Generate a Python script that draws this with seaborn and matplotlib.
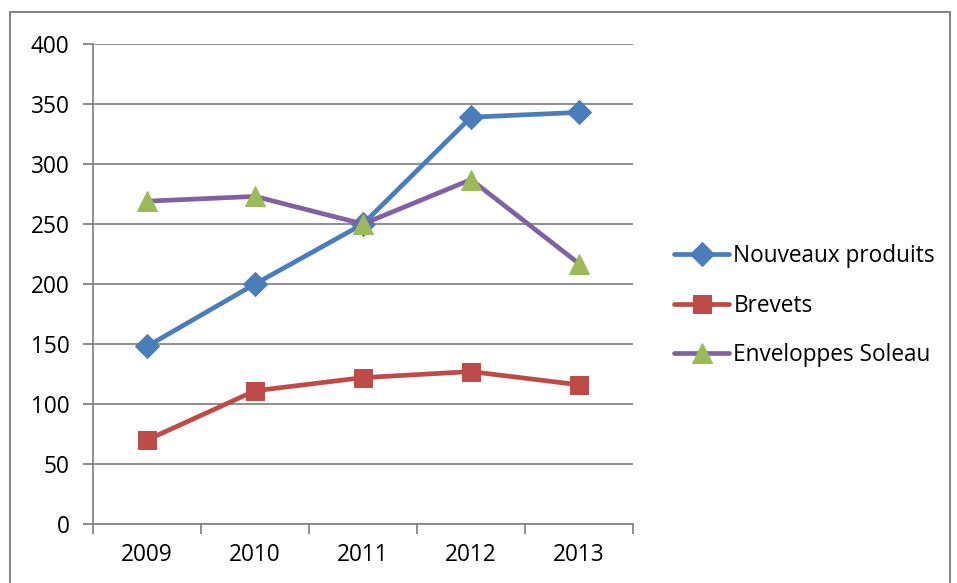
import matplotlib
matplotlib.use("Agg")
import matplotlib.pyplot as plt
import matplotlib.patches as mpatches
from matplotlib.ticker import FixedLocator
import pandas as pd
import seaborn as sns

years = ["2009", "2010", "2011", "2012", "2013"]
nouveaux_produits = [148, 200, 250, 339, 343]
brevets = [70, 111, 122, 127, 116]
enveloppes_soleau = [269, 273, 250, 287, 217]
y_ticks = [0, 50, 100, 150, 200, 250, 300, 350, 400]

sns.set_theme(style="white")
plt.rcParams["font.family"] = ["Open Sans", "DejaVu Sans"]
plt.rcParams["text.color"] = "black"
plt.rcParams["xtick.labelcolor"] = "black"
plt.rcParams["ytick.labelcolor"] = "black"

FS = 16.3

fig = plt.figure(figsize=(9.57, 5.83), dpi=100)
ax = fig.add_axes([93 / 957, 1 - 524 / 583, 540 / 957, 480 / 583])

# outer chart frame
fig.patches.append(mpatches.Rectangle((10 / 957, -0.05), 940 / 957, 1 - 12 / 583 + 0.05,
                                      transform=fig.transFigure, fill=False,
                                      edgecolor="#868686", linewidth=1.5, zorder=0))

pos = list(range(len(years)))
series = [
    ("Nouveaux produits", nouveaux_produits, "#4A7EBB", "D", "#4A7EBB", 12),
    ("Brevets", brevets, "#BE4B48", "s", "#BE4B48", 13),
    ("Enveloppes Soleau", enveloppes_soleau, "#7E62A1", "^", "#9BBB59", 14.5),
]
for name, vals, lc, mk, mc, ms in series:
    df = pd.DataFrame({"x": pos, "y": vals})
    sns.lineplot(data=df, x="x", y="y", ax=ax, color=lc, linewidth=3.4,
                 marker=mk, markersize=ms, markerfacecolor=mc,
                 markeredgecolor=mc, label=name, zorder=3)

ax.set_xlim(-0.5, len(years) - 0.5)
ax.set_ylim(0, 400)
ax.set_yticks(y_ticks)
ax.set_xticks(pos)
ax.set_xticklabels(years)
ax.xaxis.set_minor_locator(FixedLocator([p - 0.5 for p in range(len(years) + 1)]))
ax.set_xlabel("")
ax.set_ylabel("")

ax.yaxis.grid(True, color="#868686", linewidth=1.3)
ax.set_axisbelow(True)
for side in ["top", "right"]:
    ax.spines[side].set_visible(False)
for side in ["left", "bottom"]:
    ax.spines[side].set_color("#868686")
    ax.spines[side].set_linewidth(1.3)

ax.tick_params(axis="y", which="major", direction="out", length=7, width=1.3,
               color="#868686", labelsize=FS, pad=10, left=True)
ax.tick_params(axis="x", which="major", length=0, labelsize=FS, pad=14)
ax.tick_params(axis="x", which="minor", direction="out", length=7, width=1.3,
               color="#868686", bottom=True)

leg = ax.legend(loc="center left", bbox_to_anchor=(1.06, 0.455), frameon=False,
                fontsize=FS, handlelength=2.4, handletextpad=0.2,
                labelspacing=1.12, borderaxespad=0)
for t in leg.get_texts():
    t.set_color("black")

fig.savefig("out.png", dpi=100)
